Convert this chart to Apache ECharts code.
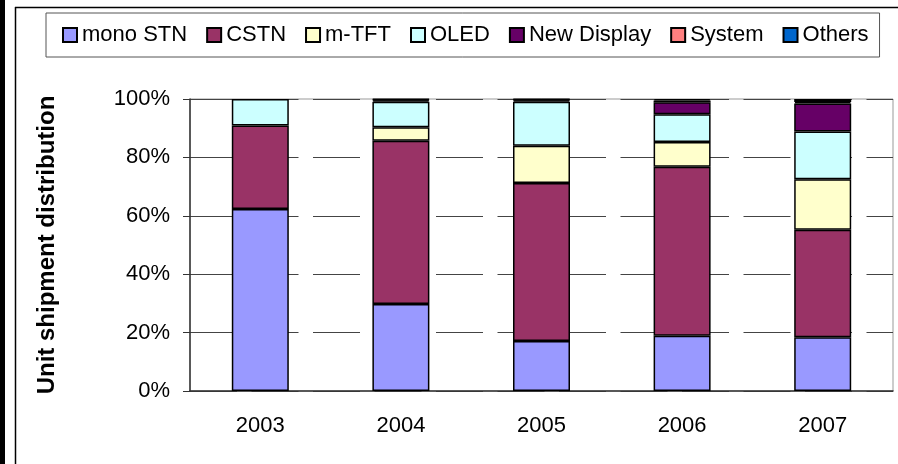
<!DOCTYPE html>
<html>
	<head>
		<meta charset="utf-8">
		<title>Unit shipment distribution</title>
		<style>
			html, body { margin: 0; padding: 0; background: #fff; }
			#main { width: 898px; height: 464px; }
		</style>
	</head>
	<body>
		<div id="main"></div>
		<script src="https://cdn.jsdelivr.net/npm/echarts@6/dist/echarts.min.js"></script>
		<script>
			// data (percent of unit shipments)
			var years = ['2003', '2004', '2005', '2006', '2007'];
			var monoSTN    = [62.3, 29.8, 17.1, 18.9, 18.4];
			var cstn       = [28.6, 55.9, 54.1, 57.9, 36.8];
			var mTFT       = [null, 4.6, 12.8, 8.5, 17.3];
			var oled       = [9.1, 8.8, 15.1, 9.5, 16.4];
			var newDisplay = [null, 0.5, 0.5, 4.1, 9.6];
			var system     = [null, 0.2, 0.2, 0.6, 0.5];
			var others     = [null, 0.2, 0.2, 0.5, 1.0];
			var yTicks = [0, 20, 40, 60, 80, 100];

			var names = ['mono STN', 'CSTN', 'm-TFT', 'OLED', 'New Display', 'System', 'Others'];
			var colors = ['#9999FF', '#993366', '#FFFFCC', '#CCFFFF', '#660066', '#FF8080', '#0066CC'];
			var values = [monoSTN, cstn, mTFT, oled, newDisplay, system, others];

			var font = 'Liberation Sans, Arial, sans-serif';
			var myChart = echarts.init(document.getElementById('main'));

			var series = [];
			for (var i = 0; i < names.length; i++) {
				series.push({
					name: names[i],
					type: 'bar',
					stack: 'total',
					barWidth: 57,
					data: values[i],
					itemStyle: {
						color: colors[i],
						borderColor: '#000',
						borderWidth: 1.5
					}
				});
			}

			var option = {
				animation: false,
				textStyle: { fontFamily: font },
				color: colors,
				legend: {
					data: names,
					left: 46,
					top: 13,
					width: 840,
					padding: [11, 11, 11, 16],
					borderColor: '#555',
					borderWidth: 1,
					itemWidth: 14,
					itemHeight: 14,
					itemGap: 19,
					icon: 'rect',
					textStyle: { fontFamily: font, fontSize: 22, color: '#000', padding: [0, 0, 0, 0] }
				},
				grid: {
					left: 190,
					right: 5,
					top: 99,
					bottom: 73,
					show: true,
					borderColor: '#999',
					borderWidth: 1
				},
				xAxis: {
					type: 'category',
					data: years,
					axisLine: { lineStyle: { color: '#333', width: 1.5 } },
					axisTick: { length: 7, lineStyle: { color: '#333' } },
					axisLabel: { color: '#000', fontSize: 22, fontFamily: font, margin: 24 }
				},
				yAxis: {
					type: 'value',
					min: 0,
					max: 100,
					interval: 20,
					name: 'Unit shipment distribution',
					nameLocation: 'middle',
					nameGap: 131,
					nameTextStyle: { fontFamily: font, fontSize: 24, fontWeight: 'bold', color: '#000' },
					axisLine: { show: true, lineStyle: { color: '#333', width: 1.5 } },
					axisTick: { show: true, length: 7, lineStyle: { color: '#333' } },
					axisLabel: {
						color: '#000', fontSize: 22, fontFamily: font, margin: 20,
						formatter: function (v) { return yTicks.indexOf(v) >= 0 ? v + '%' : ''; }
					},
					splitLine: {
						lineStyle: { color: '#444', width: 1, type: [47, 14.5], dashOffset: 0 }
					}
				},
				graphic: [
					{ type: 'rect', shape: { x: 0, y: 0, width: 5, height: 464 }, style: { fill: '#000' } },
					{ type: 'line', shape: { x1: 15.5, y1: 7, x2: 15.5, y2: 464 }, style: { stroke: '#000', lineWidth: 1.5 } },
					{ type: 'line', shape: { x1: 15, y1: 7.5, x2: 898, y2: 7.5 }, style: { stroke: '#000', lineWidth: 1.5 } }
				],
				series: series
			};

			myChart.setOption(option);
		</script>
	</body>
</html>
